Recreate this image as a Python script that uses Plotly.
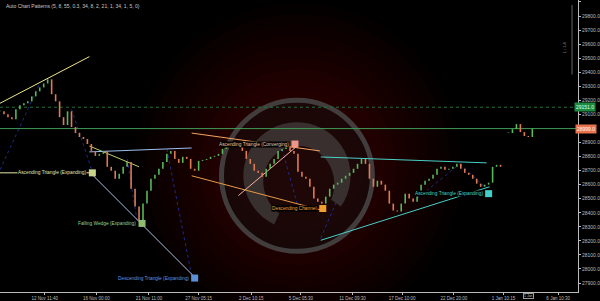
import math
import plotly.graph_objects as go

# ---------------- data ----------------
closes = [29122, 29101, 29080, 29066, 29137, 29165, 29179, 29193, 29228, 29264,
          29292, 29320, 29349, 29243, 29193, 29080, 29024, 29122, 29010, 28967,
          28939, 28925, 28889, 28840, 28805, 28819, 28840, 28727, 28699, 28642,
          28677, 28727, 28762, 28571, 28444, 28345, 28465, 28557, 28642, 28670,
          28713, 28762, 28819, 28840, 28783, 28755, 28798, 28783, 28713, 28699,
          28769, 28776, 28783, 28798, 28805, 28819, 28854, 28868, 28882, 28896,
          28889, 28840, 28783, 28748, 28699, 28684, 28656, 28713, 28748, 28783,
          28840, 28854, 28868, 28840, 28819, 28691, 28656, 28642, 28585, 28501,
          28479, 28465, 28515, 28571, 28600, 28614, 28642, 28663, 28684, 28713,
          28748, 28783, 28748, 28642, 28585, 28628, 28600, 28557, 28465, 28416,
          28409, 28465, 28536, 28501, 28479, 28550, 28600, 28628, 28642, 28670,
          28713, 28727, 28706, 28713, 28727, 28748, 28713, 28684, 28670, 28642,
          28607, 28585, 28600, 28614, 28727, 28741, 28727, None, 28967, 28995,
          29031, 28974, 28946, 28939, 28999]

x_tick_pos = [11.25, 24.25, 37.5, 50, 63.25, 75.75, 88.75, 101.25, 114.25, 126.75, 140.5]
x_tick_text = ["12 Nov 11:40", "16 Nov 00:00", "21 Nov 11:00", "27 Nov 05:15", "2 Dec 10:15",
               "5 Dec 05:30", "11 Dec 09:30", "17 Dec 10:00", "22 Dec 20:00", "1 Jan 10:15",
               "6 Jan 10:30"]
y_tick_vals = [27900, 28000, 28100, 28200, 28300, 28400, 28500, 28600, 28700, 28800,
               28900, 29000, 29100, 29200, 29300, 29400, 29500, 29600, 29700, 29800, 29900]

current_price = 28999
level_price = 29151

# pattern lines: (x0, p0, x1, p1, colour)
pattern_lines = [
    (0, 29179, 22.5, 29511, "#f0e68c"),
    (0, 28684, 23.25, 28684, "#e6e6a8"),
    (22.5, 28875, 35, 28727, "#c0cc6a"),
    (22.5, 28833, 48.25, 28861, "#9cc0f0"),
    (23.25, 28670, 49, 27942, "#a8c4e8"),
    (48.25, 28967, 80.5, 28840, "#f4a460"),
    (48.25, 28663, 81.25, 28416, "#e89a48"),
    (60, 28522, 74.5, 28868, "#f4b0a0"),
    (80.75, 28797, 122.5, 28755, "#48d0c8"),
    (80.75, 28204, 123.25, 28585, "#48d0c8"),
]

# zigzag segments (x0, p0, x1, p1)
zigzag = [
    (0, 28706, 10, 29320),
    (18, 29137, 23, 28713),
    (32, 28783, 34.5, 28345),
    (42, 28854, 48.25, 27950),
    (71, 28854, 75, 28444),
    (80.75, 28218, 85, 28501),
    (105, 28501, 115.75, 28748),
    (115.75, 28748, 122, 28585),
]

# pattern labels: (text, box x, box price, text colour, box colour)
pattern_labels = [
    ("Ascending Triangle (Expanding)", 23.25, 28684, "#e6e6a8", "#c8d48c"),
    ("Falling Wedge (Expanding)", 35.75, 28324, "#9fd08a", "#8fbc6f"),
    ("Descending Triangle (Expanding)", 49, 27935, "#5e96e6", "#5b8fd8"),
    ("Ascending Triangle (Converging)", 74.25, 28889, "#f2c8a8", "#f0958a"),
    ("Descending Channel", 81.25, 28430, "#f0a040", "#f0a030"),
    ("Ascending Triangle (Expanding)", 123, 28536, "#40d8d0", "#40d0c8"),
]

# ---------------- derived ohlc ----------------
up_x, up_y, dn_x, dn_y = [], [], [], []
for i, c in enumerate(closes):
    if c is None:
        continue
    prev = closes[i - 1] if i > 0 else None
    o = prev if prev is not None else c
    lo, hi = min(o, c), max(o, c)
    if hi - lo < 4:
        hi = lo + 4
    if c >= o:
        up_x += [i, i, None]; up_y += [lo, hi, None]
    else:
        dn_x += [i, i, None]; dn_y += [lo, hi, None]

fig = go.Figure()

# ---------------- watermark (decorative) ----------------
W, H = 582.0, 294.0
def px(x, y):
    return x / W, 1 - y / H

shapes = []
cx, cy = 300, 168
for k in range(14):
    r = 165 - k * 11
    x0, y0 = px(cx - r, cy + r); x1, y1 = px(cx + r, cy - r)
    shapes.append(dict(type="circle", xref="paper", yref="paper", x0=x0, y0=y0, x1=x1, y1=y1,
                       fillcolor="rgba(150,0,0,0.035)", line=dict(width=0), layer="below"))
rcx, rcy, rr = 299, 177, 76
x0, y0 = px(rcx - rr, rcy + rr); x1, y1 = px(rcx + rr, rcy - rr)
shapes.append(dict(type="circle", xref="paper", yref="paper", x0=x0, y0=y0, x1=x1, y1=y1,
                   fillcolor="rgba(18,12,12,0.55)", line=dict(color="rgba(75,75,75,0.8)", width=5),
                   layer="below"))
# "C" arc
pts = []
n = 40
a_start, a_end = -35, 245
for k in range(n + 1):
    t = k / n
    a = math.radians(a_start + (a_end - a_start) * t)
    pts.append(px(rcx + 54 * math.cos(a), rcy - 54 * math.sin(a)))
for k in range(n + 1):
    t = k / n
    a = math.radians(a_end - (a_end - a_start) * t)
    ri = 30 + 12 * abs(1 - 2 * (1 - t)) ** 2
    pts.append(px(rcx + ri * math.cos(a), rcy - ri * math.sin(a)))
path = "M " + " L ".join(f"{p[0]:.4f},{p[1]:.4f}" for p in pts) + " Z"
shapes.append(dict(type="path", xref="paper", yref="paper", path=path,
                   fillcolor="rgba(80,80,80,0.55)", line=dict(width=0), layer="below"))
# top-right scale bracket
bx0, by0 = px(576, 5); _, by1 = px(576, 75)
shapes.append(dict(type="line", xref="paper", yref="paper", x0=bx0, x1=bx0, y0=by0, y1=by1,
                   line=dict(color="#666", width=1)))

# ---------------- traces ----------------
zx, zy = [], []
for (xa, pa, xb, pb) in zigzag:
    zx += [xa, xb, None]; zy += [pa, pb, None]
fig.add_trace(go.Scatter(x=zx, y=zy, mode="lines", line=dict(color="#1c2a8a", width=1, dash="dot"),
                         hoverinfo="skip", showlegend=False))

for (xa, pa, xb, pb, col) in pattern_lines:
    fig.add_trace(go.Scatter(x=[xa, xb], y=[pa, pb], mode="lines",
                             line=dict(color=col, width=1), hoverinfo="skip", showlegend=False))

fig.add_trace(go.Scatter(x=[0, 145.5], y=[level_price, level_price], mode="lines",
                         line=dict(color="#22703a", width=1, dash="dot"),
                         hoverinfo="skip", showlegend=False))
fig.add_trace(go.Scatter(x=[0, 145.5], y=[current_price, current_price], mode="lines",
                         line=dict(color="#3f9a55", width=1), hoverinfo="skip", showlegend=False))

fig.add_trace(go.Scatter(x=up_x, y=up_y, mode="lines", line=dict(color="#55b85a", width=1.6),
                         hoverinfo="skip", showlegend=False))
fig.add_trace(go.Scatter(x=dn_x, y=dn_y, mode="lines", line=dict(color="#e07a55", width=1.6),
                         hoverinfo="skip", showlegend=False))

fig.add_trace(go.Scatter(x=[l[1] for l in pattern_labels], y=[l[2] for l in pattern_labels],
                         mode="markers",
                         marker=dict(symbol="square", size=7, color=[l[4] for l in pattern_labels],
                                     line=dict(width=0)),
                         hoverinfo="skip", showlegend=False))

annotations = []
for (t, bx, bp, tc, _) in pattern_labels:
    annotations.append(dict(x=bx, y=bp, xref="x", yref="y", text=t, showarrow=False,
                            xanchor="right", yanchor="middle", xshift=-5,
                            font=dict(size=4.8, color=tc, family="Liberation Sans"),
                            bgcolor="black", borderpad=0))

annotations.append(dict(x=0.007, y=0.995, xref="paper", yref="paper",
                        text="Auto Chart Patterns (5, 8, 55, 0.3, 34, 8, 2, 21, 1, 34, 1, 5, 0)",
                        showarrow=False, xanchor="left", yanchor="top",
                        font=dict(size=5, color="#c8c8c8", family="Liberation Sans")))
# price tags
annotations.append(dict(x=1.0, y=level_price, xref="paper", yref="y", text=f"{level_price:.1f}",
                        showarrow=False, xanchor="left", yanchor="middle", xshift=-4,
                        font=dict(size=5, color="#dfffe0", family="Liberation Sans"),
                        bgcolor="#1e8a40", borderpad=1))
annotations.append(dict(x=1.0, y=current_price, xref="paper", yref="y", text=f"{current_price:.1f}",
                        showarrow=False, xanchor="left", yanchor="middle", xshift=-3,
                        font=dict(size=5, color="#ffffff", family="Liberation Sans"),
                        bgcolor="#e8734d", borderpad=1))
annotations.append(dict(x=px(573, 40)[0], y=px(573, 40)[1], xref="paper", yref="paper",
                        text="1 : 1.4", textangle=-90, showarrow=False,
                        font=dict(size=4, color="#aaaaaa", family="Liberation Sans")))
annotations.append(dict(x=133, y=0, xref="x", yref="paper", text="1 Jan", showarrow=False,
                        yanchor="top", yshift=-1, bordercolor="#999", borderwidth=1, borderpad=0,
                        font=dict(size=3.5, color="#bbbbbb", family="Liberation Sans"),
                        bgcolor="black"))

fig.update_layout(
    width=600, height=301,
    margin=dict(l=0, r=18, t=0, b=7),
    paper_bgcolor="black", plot_bgcolor="black",
    shapes=shapes, annotations=annotations,
    showlegend=False, hovermode=False,
    xaxis=dict(range=[0, 145.5], showgrid=False, zeroline=False,
               tickmode="array", tickvals=x_tick_pos, ticktext=x_tick_text,
               tickfont=dict(size=4.5, color="#bbbbbb", family="Liberation Sans"),
               showline=True, linecolor="#bbbbbb", linewidth=1,
               ticks="outside", ticklen=2, tickcolor="#bbbbbb"),
    yaxis=dict(range=[27836, 29914], side="right", showgrid=False, zeroline=False,
               tickmode="array", tickvals=y_tick_vals,
               ticktext=["" if v == 29000 else f"{v:.1f}" for v in y_tick_vals],
               tickfont=dict(size=5, color="#bbbbbb", family="Liberation Sans"),
               showline=True, linecolor="#bbbbbb", linewidth=1,
               ticks="outside", ticklen=2, tickcolor="#bbbbbb"),
)

fig.write_html("out.html")
